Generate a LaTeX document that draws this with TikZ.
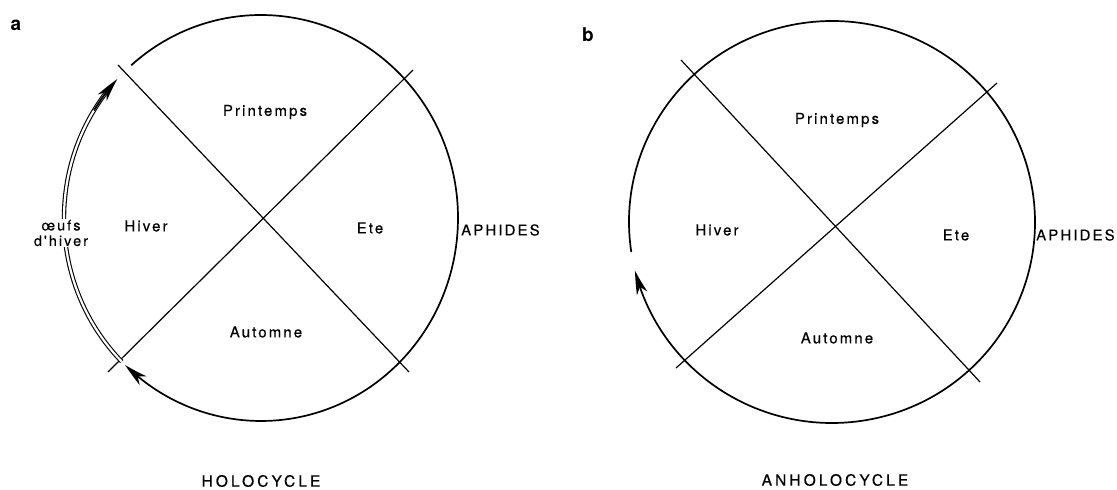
\documentclass[tikz,border=0pt]{standalone}
\usepackage{fontspec}
\setmainfont{TeX Gyre Heros}
\newfontfamily\lblfont[LetterSpace=14,FakeBold=0.3]{TeX Gyre Heros}
\newfontfamily\capfont[LetterSpace=20,FakeBold=0.3]{TeX Gyre Heros}
\usetikzlibrary{arrows.meta,bending,calc}
\tikzset{
  ring/.style={line width=1.7pt, black},
  cross/.style={line width=1.2pt, black},
  bigtip/.style={-{Stealth[length=24pt,width=11pt,inset=7pt,bend]}},
  season/.style={font=\lblfont\fontsize{15}{17}\selectfont, inner sep=1pt},
  title/.style={font=\capfont\fontsize{15.5}{17}\selectfont, inner sep=1pt},
  panel/.style={font=\bfseries\fontsize{19}{21}\selectfont, inner sep=0pt},
  eggs/.style={font=\lblfont\fontsize{14.5}{15.5}\selectfont, align=center, fill=white, inner sep=1pt}
}
\begin{document}
\begin{tikzpicture}[x=1pt,y=1pt]
\useasboundingbox (0,0) rectangle (1117,490);
\fill[white] (0,0) rectangle (1117,490);

% ---------------- panel a ----------------
\coordinate (cL) at (261,272);
\coordinate (aTL) at (118,425);
\coordinate (aBR) at (409,118);
\coordinate (aBL) at (108,118);
\coordinate (aTR) at (413,420);
\draw[cross] (aTL) -- (aBR);
\draw[cross] (aBL) -- (aTR);
% main circle arc, clockwise, ending with arrow at lower-left crossing
\draw[ring, bigtip] ($(cL)+(131.2:197 and 203)$) coordinate (aS)
  arc[start angle=131.2, end angle=-133.6, x radius=197, y radius=203];
% double arc on the left (winter eggs)
\draw[line width=1.1pt, double=white, double distance=2.2pt]
  ($(cL)+(225:197 and 203)$) coordinate (aD)
  arc[start angle=225, end angle=142, x radius=197, y radius=203];
\draw[line width=1.8pt, bigtip]
  ($(cL)+(148:197 and 203)$) coordinate (aDt)
  arc[start angle=148, end angle=136.8, x radius=197, y radius=203];
\node[eggs] (oeufs) at (61,257) {\oe ufs\\d'hiver};
\node[season] (aP) at (265,378) {Printemps};
\node[season] (aH) at (146,264) {Hiver};
\node[season] (aE) at (370,262) {Ete};
\node[season] (aA) at (266,158) {Automne};
\node[season, anchor=west] (aAph) at (460,260) {APHIDES};
\node[title] (holo) at (261,9) {HOLOCYCLE};
\node[panel] (la) at (16,465) {a};

% ---------------- panel b ----------------
\coordinate (cR) at (832,268);
\coordinate (bTL) at (681,430);
\coordinate (bBR) at (980,108);
\coordinate (bBL) at (676,122);
\coordinate (bTR) at (997,407);
\draw[cross] (bTL) -- (bBR);
\draw[cross] (bBL) -- (bTR);
\draw[ring, bigtip] ($(cR)+(188.6:203 and 201)$) coordinate (bS)
  arc[start angle=188.6, end angle=-166, x radius=203, y radius=201];
\node[season] (bP) at (837,370) {Printemps};
\node[season] (bH) at (717,260) {Hiver};
\node[season] (bE) at (956,255) {Ete};
\node[season] (bA) at (837,152) {Automne};
\node[season, anchor=west] (bAph) at (1035,255) {APHIDES};
\node[title] (anholo) at (835,10) {ANHOLOCYCLE};
\node[panel] (lb) at (588,455) {b};
\end{tikzpicture}
\end{document}
